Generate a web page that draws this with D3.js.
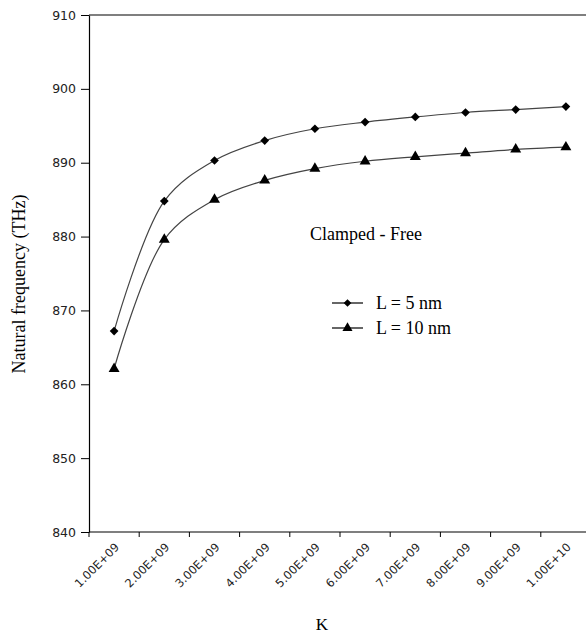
<!DOCTYPE html>
<html><head><meta charset="utf-8">
<script src="https://cdn.jsdelivr.net/npm/d3@7"></script>
<style>body{margin:0;background:#fff}svg{display:block}</style>
</head><body>
<svg id="c" width="586" height="635"></svg>
<script>
const categories = ["1.00E+09","2.00E+09","3.00E+09","4.00E+09","5.00E+09","6.00E+09","7.00E+09","8.00E+09","9.00E+09","1.00E+10"];
const seriesL5  = [867.2, 884.8, 890.3, 893.0, 894.6, 895.5, 896.2, 896.8, 897.2, 897.6];
const seriesL10 = [862.1, 879.6, 885.0, 887.6, 889.2, 890.2, 890.8, 891.3, 891.8, 892.1];
const yTicks = [840, 850, 860, 870, 880, 890, 900, 910];
const seriesNames = ["L = 5 nm", "L = 10 nm"];

(function () {
const svg = d3.select("#c");
const pLeft = 89, pRight = 591, pTop = 15, pBottom = 532;
const serif = "Liberation Serif, Times New Roman, serif";
const sans = "DejaVu Sans, Verdana, sans-serif";
const x = d3.scaleBand().domain(categories).range([pLeft, pRight]);
const y = d3.scaleLinear().domain([840, 910]).range([pBottom, pTop]);

// frame: top line
svg.append("line").attr("x1", pLeft).attr("x2", pRight).attr("y1", pTop).attr("y2", pTop)
  .attr("stroke", "#000").attr("stroke-width", 1.2);

// y axis
const ya = svg.append("g").attr("transform", `translate(${pLeft},0)`)
  .call(d3.axisLeft(y).tickValues(yTicks).tickSize(8).tickSizeOuter(0).tickPadding(5));
ya.select(".domain").attr("stroke", "#000").attr("stroke-width", 1.2);
ya.selectAll(".tick line").attr("stroke", "#000").attr("stroke-width", 1);
ya.selectAll(".tick text").attr("font-family", sans)
  .attr("font-size", 12.5).attr("fill", "#222");

// x axis: line + ticks at band boundaries
svg.append("line").attr("x1", pLeft).attr("x2", pRight).attr("y1", pBottom).attr("y2", pBottom)
  .attr("stroke", "#000").attr("stroke-width", 1.2);
const bounds = categories.map(c => x(c)).concat([x(categories[categories.length-1]) + x.bandwidth()]);
svg.append("g").selectAll("line").data(bounds).join("line")
  .attr("x1", d => d).attr("x2", d => d).attr("y1", pBottom).attr("y2", pBottom + 5)
  .attr("stroke", "#000").attr("stroke-width", 1);
svg.append("g").selectAll("text").data(categories).join("text")
  .attr("transform", d => `translate(${x(d) + x.bandwidth()/2 + 3},${pBottom + 13}) rotate(-45)`)
  .attr("text-anchor", "end").attr("dy", "0.35em")
  .attr("font-family", sans).attr("font-size", 11.5)
  .attr("fill", "#222").text(d => d);

// axis titles
svg.append("text").attr("x", 322).attr("y", 630).attr("text-anchor", "middle")
  .attr("font-family", serif).attr("font-size", 17)
  .text("K");
svg.append("text").attr("transform", `translate(25,284) rotate(-90)`).attr("text-anchor", "middle")
  .attr("font-family", serif).attr("font-size", 18)
  .text("Natural frequency (THz)");

// lines
const cx = i => x(categories[i]) + x.bandwidth()/2;
const line = d3.line().x((d, i) => cx(i)).y(d => y(d)).curve(d3.curveCatmullRom.alpha(0.5));
[seriesL5, seriesL10].forEach(s => {
  svg.append("path").datum(s).attr("d", line).attr("fill", "none")
    .attr("stroke", "#444").attr("stroke-width", 1.2);
});

svg.append("g").selectAll("path").data(seriesL5).join("path")
  .attr("transform", (d, i) => `translate(${cx(i)},${y(d)}) rotate(45)`)
  .attr("d", d3.symbol().type(d3.symbolSquare).size(38)).attr("fill", "#000");
svg.append("g").selectAll("path").data(seriesL10).join("path")
  .attr("transform", (d, i) => `translate(${cx(i)},${y(d)})`)
  .attr("d", d3.symbol().type(d3.symbolTriangle).size(52)).attr("fill", "#000");

// annotation
svg.append("text").attr("x", 310).attr("y", 240)
  .attr("font-family", serif).attr("font-size", 18)
  .text("Clamped - Free");

// legend
const lg = svg.append("g");
const legendRows = [{name: seriesNames[0], y: 303, sym: "d"}, {name: seriesNames[1], y: 328, sym: "t"}];
legendRows.forEach(r => {
  lg.append("line").attr("x1", 332).attr("x2", 363).attr("y1", r.y).attr("y2", r.y)
    .attr("stroke", "#000").attr("stroke-width", 1.2);
  if (r.sym === "d") {
    lg.append("path").attr("transform", `translate(347.5,${r.y}) rotate(45)`)
      .attr("d", d3.symbol().type(d3.symbolSquare).size(30)).attr("fill", "#000");
  } else {
    lg.append("path").attr("transform", `translate(347.5,${r.y})`)
      .attr("d", d3.symbol().type(d3.symbolTriangle).size(44)).attr("fill", "#000");
  }
  lg.append("text").attr("x", 376).attr("y", r.y + 6)
    .attr("font-family", serif).attr("font-size", 18)
    .text(r.name);
});
})();
</script>
</body></html>
